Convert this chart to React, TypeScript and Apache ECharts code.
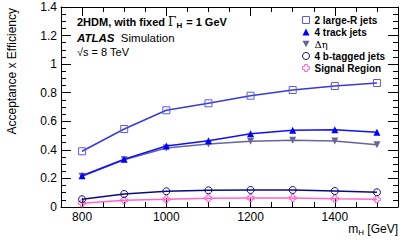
import React, { useEffect, useRef } from "react";
import * as echarts from "echarts";

const masses = [800, 900, 1000, 1100, 1200, 1300, 1400, 1500];
const largeRJets = [0.39, 0.546, 0.677, 0.726, 0.779, 0.819, 0.847, 0.868];
const trackJets = [0.219, 0.334, 0.427, 0.464, 0.513, 0.537, 0.541, 0.523];
const deltaEta = [0.215, 0.33, 0.413, 0.441, 0.46, 0.467, 0.462, 0.436];
const bTagged = [0.054, 0.091, 0.11, 0.117, 0.119, 0.119, 0.112, 0.103];
const signalRegion = [0.026, 0.047, 0.054, 0.061, 0.063, 0.063, 0.058, 0.054];
const xMajorTicks = [800, 1000, 1200, 1400];
const xMinorTicks = [750, 850, 900, 950, 1050, 1100, 1150, 1250, 1300, 1350, 1450, 1500, 1550];
const seriesNames = ["2 large-R jets", "4 track jets", "Δη", "4 b-tagged jets", "Signal Region"];

const FONT = "Liberation Sans, Arial, Helvetica, sans-serif";
const crossPath =
  "path://M3,0 L7,0 L7,3 L10,3 L10,7 L7,7 L7,10 L3,10 L3,7 L0,7 L0,3 L3,3 Z";
const invTriPath = "path://M0,0 L10,0 L5,9 Z";

export default function App() {
  const ref = useRef<HTMLDivElement>(null);
  useEffect(() => {
    if (!ref.current) return;
    const chart = echarts.init(ref.current, undefined, { renderer: "svg" });
    const pts = (vals: number[]) => masses.map((m, i) => [m, vals[i]]);
    const xCommon = { type: "value", min: 750, max: 1550, splitLine: { show: false } };
    const yCommon = {
      type: "value",
      min: 0,
      max: 1.4,
      interval: 0.2,
      splitLine: { show: false },
      minorTick: { show: true, splitNumber: 4, length: 5, lineStyle: { color: "#000", width: 1 } },
      minorSplitLine: { show: false },
    };
    const axisLine = { show: true, onZero: false, lineStyle: { color: "#000", width: 1 } };
    const colors = ["#5a5aee", "#0000ff", "#66669a", "#0a0a80", "#ff66cc"];
    const lineColors = ["#3a3ad6", "#1010ff", "#66669a", "#0a0a80", "#ff66cc"];
    const data = [largeRJets, trackJets, deltaEta, bTagged, signalRegion];
    const symbols = ["rect", "triangle", invTriPath, "circle", crossPath];
    const sizes = [7, 7, 7, 7, 7];
    const filled = [false, true, true, false, false];

    chart.setOption({
      animation: false,
      backgroundColor: "#fff",
      grid: { left: 61, right: 17, top: 7, bottom: 39 },
      xAxis: [
        {
          ...xCommon,
          position: "bottom",
          axisLine,
          axisTick: { show: true, inside: true, length: 9, customValues: xMajorTicks, lineStyle: { color: "#000" } },
          axisLabel: {
            customValues: xMajorTicks,
            formatter: (v: number) => String(v),
            color: "#000",
            fontSize: 12,
            fontFamily: FONT,
            margin: 4,
          },
        },
        {
          ...xCommon,
          position: "top",
          axisLine,
          axisTick: { show: true, inside: true, length: 9, customValues: xMajorTicks, lineStyle: { color: "#000" } },
          axisLabel: { show: false },
        },
        {
          ...xCommon,
          position: "bottom",
          axisLine: { show: false, onZero: false },
          axisTick: { show: true, inside: true, length: 5, customValues: xMinorTicks, lineStyle: { color: "#000" } },
          axisLabel: { show: false },
        },
        {
          ...xCommon,
          position: "top",
          axisLine: { show: false, onZero: false },
          axisTick: { show: true, inside: true, length: 5, customValues: xMinorTicks, lineStyle: { color: "#000" } },
          axisLabel: { show: false },
        },
      ],
      yAxis: [
        {
          ...yCommon,
          position: "left",
          axisLine,
          axisTick: { show: true, inside: true, length: 10, lineStyle: { color: "#000" } },
          minorTick: { ...yCommon.minorTick },
          axisLabel: { color: "#000", fontSize: 12, fontFamily: FONT, margin: 4 },
        },
        {
          ...yCommon,
          position: "right",
          axisLine,
          axisTick: { show: true, inside: true, length: 10, lineStyle: { color: "#000" } },
          axisLabel: { show: false },
        },
      ],
      legend: {
        orient: "vertical",
        left: 302,
        top: 15,
        padding: 0,
        itemWidth: 7,
        itemHeight: 7,
        itemGap: 2,
        selectedMode: false,
        textStyle: {
          fontSize: 10,
          lineHeight: 10,
          fontWeight: "bold",
          fontFamily: FONT,
          color: "#000",
          padding: [0, 0, 0, 0],
          rich: { g: { fontSize: 10, lineHeight: 10, fontWeight: "normal", fontFamily: "DejaVu Serif, serif", color: "#000" } },
        },
        formatter: (n: string) => (n === "Δη" ? "{g|Δη}" : n),
        data: seriesNames.map((n, i) => ({
          name: n,
          icon: symbols[i],
          itemStyle: filled[i]
            ? { color: colors[i], borderWidth: 0 }
            : { color: "transparent", borderColor: colors[i], borderWidth: 1 },
        })),
      },
      graphic: [
        {
          type: "text",
          left: 77,
          top: 16,
          style: {
            text: "{b|2HDM, with fixed }{g|Γ}{s|H}{b| = 1 GeV}",
            rich: {
              b: { fontSize: 11, fontWeight: "bold", fontFamily: FONT, fill: "#000" },
              g: { fontSize: 12, fontFamily: "DejaVu Serif, serif", fill: "#000" },
              s: { fontSize: 8, fontWeight: "bold", fontFamily: FONT, fill: "#000", verticalAlign: "bottom", padding: [7, 1, 0, 0] },
            },
          },
        },
        {
          type: "text",
          left: 77,
          top: 32,
          style: {
            text: "{a|ATLAS}{n|  Simulation}",
            rich: {
              a: { fontSize: 11.5, fontWeight: "bold", fontStyle: "italic", fontFamily: FONT, fill: "#000" },
              n: { fontSize: 11.5, fontFamily: FONT, fill: "#000" },
            },
          },
        },
        {
          type: "text",
          left: 77,
          top: 46,
          style: { text: "√s = 8 TeV", fontSize: 11, fontFamily: FONT, fill: "#000" },
        },
        {
          type: "text",
          right: 17,
          top: 223,
          style: {
            text: "{n|m}{s|H}{n| [GeV]}",
            rich: {
              n: { fontSize: 12, fontFamily: FONT, fill: "#000" },
              s: { fontSize: 8, fontFamily: FONT, fill: "#000", verticalAlign: "bottom", padding: [7, 0, 0, 0] },
            },
          },
        },
        {
          type: "text",
          x: 6,
          y: 8,
          rotation: Math.PI / 2,
          style: {
            text: "Acceptance x Efficiency",
            fontSize: 12,
            fontFamily: FONT,
            fill: "#000",
            align: "right",
            verticalAlign: "top",
          },
        },
      ],
      series: seriesNames.map((n, i) => ({
        name: n,
        type: "line",
        xAxisIndex: 0,
        yAxisIndex: 0,
        data: pts(data[i]),
        symbol: symbols[i],
        symbolSize: sizes[i],
        showSymbol: true,
        lineStyle: { color: lineColors[i], width: 1.5 },
        itemStyle: filled[i]
          ? { color: colors[i], borderWidth: 0 }
          : { color: "transparent", borderColor: colors[i], borderWidth: 1 },
        z: 5 - i,
      })),
    });
    return () => chart.dispose();
  }, []);
  return (
    <div
      ref={ref}
      style={{ position: "fixed", left: 0, top: 0, width: 415, height: 246, background: "#fff" }}
    />
  );
}
